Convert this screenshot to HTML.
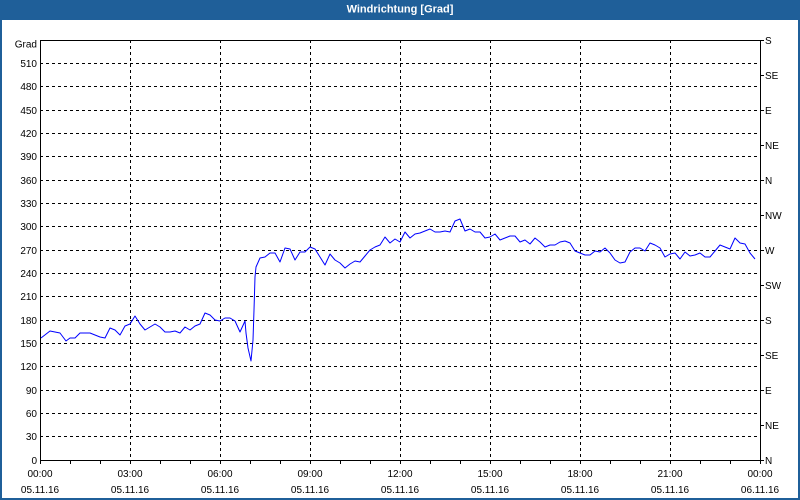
<!DOCTYPE html>
<html>
<head>
<meta charset="utf-8">
<style>
  html,body{margin:0;padding:0;background:#fff;}
  svg{display:block;}
  text{font-family:"Liberation Sans","DejaVu Sans",sans-serif;font-size:10px;fill:#000;}
</style>
</head>
<body>
<svg width="800" height="500" viewBox="0 0 800 500" xmlns="http://www.w3.org/2000/svg">
  <rect x="0" y="0" width="800" height="500" fill="#ffffff"/>
  <!-- outer border -->
  <rect x="1" y="1" width="798" height="498" fill="none" stroke="#1f5f99" stroke-width="2"/>
  <!-- title bar -->
  <rect x="0" y="0" width="800" height="20" fill="#1f5f99"/>
  <text x="400" y="12.5" text-anchor="middle" style="font-size:11px;font-weight:bold;fill:#ffffff;">Windrichtung [Grad]</text>

  <!-- grid -->
  <g stroke="#000" stroke-width="1" stroke-dasharray="3,3" shape-rendering="crispEdges" fill="none">
    <path d="M40 436.5H760 M40 413.5H760 M40 390.5H760 M40 366.5H760 M40 343.5H760 M40 320.5H760 M40 296.5H760 M40 273.5H760 M40 250.5H760 M40 226.5H760 M40 203.5H760 M40 180.5H760 M40 156.5H760 M40 133.5H760 M40 110.5H760 M40 86.5H760 M40 63.5H760"/>
    <path d="M130.5 40V460 M220.5 40V460 M310.5 40V460 M400.5 40V460 M490.5 40V460 M580.5 40V460 M670.5 40V460"/>
  </g>

  <!-- frame -->
  <g stroke="#000" stroke-width="1" shape-rendering="crispEdges" fill="none">
    <rect x="40.5" y="40.5" width="720" height="420"/>
    <!-- bottom ticks -->
    <path d="M40.5 460v4 M70.5 460v4 M100.5 460v4 M130.5 460v4 M160.5 460v4 M190.5 460v4 M220.5 460v4 M250.5 460v4 M280.5 460v4 M310.5 460v4 M340.5 460v4 M370.5 460v4 M400.5 460v4 M430.5 460v4 M460.5 460v4 M490.5 460v4 M520.5 460v4 M550.5 460v4 M580.5 460v4 M610.5 460v4 M640.5 460v4 M670.5 460v4 M700.5 460v4 M730.5 460v4 M760.5 460v4"/>
    <!-- right ticks -->
    <path d="M760 40.5h4 M760 75.5h4 M760 110.5h4 M760 145.5h4 M760 180.5h4 M760 215.5h4 M760 250.5h4 M760 285.5h4 M760 320.5h4 M760 355.5h4 M760 390.5h4 M760 425.5h4 M760 460.5h4"/>
  </g>

  <!-- data -->
  <polyline fill="none" stroke="#0000ff" stroke-width="1" stroke-linejoin="round"
    points="41,338 50,331 60,333 66,341 70,338 75,338 80,333 90,333 100,337 105,338 110,328 115,330 120,335 125,326 130,324 135,316 140,324 145,330 150,327 155,324 160,327 165,332 170,332 175,331 180,333 185,327 190,330 195,326 200,324 205,313 210,315 215,320 220,321 225,318 230,318 235,321 240,332 245,321 246,333 248,348 251,361 253,340 254,310 255,277 256,267 260,258 265,257 270,253 275,253 280,262 285,248 290,249 295,260 300,252 305,252 310,247 315,249 320,257 325,265 330,254 335,260 340,263 345,268 350,264 355,261 360,262 365,256 370,250 375,247 380,245 385,237 390,243 395,239 400,242 405,232 410,238 415,234 420,233 425,231 430,229 435,232 440,232 445,231 450,232 455,221 460,219 465,231 470,229 475,232 480,232 485,238 490,237 495,234 500,240 505,238 510,236 515,236 520,242 525,240 530,244 535,238 540,242 545,247 550,245 555,245 560,242 565,241 570,243 575,251 580,253 585,255 590,255 595,251 600,252 605,248 610,253 615,260 620,263 625,262 630,252 635,248 640,248 645,251 650,243 655,245 660,248 665,257 670,254 675,253 680,259 685,252 690,256 695,255 700,253 705,257 710,257 715,251 720,245 725,247 730,249 735,238 740,243 745,244 750,253 755,259"/>

  <!-- left labels -->
  <g text-anchor="end">
    <text x="37" y="47.5">Grad</text>
    <text x="37" y="67">510</text>
    <text x="37" y="90">480</text>
    <text x="37" y="114">450</text>
    <text x="37" y="137">420</text>
    <text x="37" y="160">390</text>
    <text x="37" y="184">360</text>
    <text x="37" y="207">330</text>
    <text x="37" y="230">300</text>
    <text x="37" y="254">270</text>
    <text x="37" y="277">240</text>
    <text x="37" y="300">210</text>
    <text x="37" y="324">180</text>
    <text x="37" y="347">150</text>
    <text x="37" y="370">120</text>
    <text x="37" y="394">90</text>
    <text x="37" y="417">60</text>
    <text x="37" y="440">30</text>
    <text x="37" y="464">0</text>
  </g>

  <!-- right labels -->
  <g text-anchor="start">
    <text x="765" y="44">S</text>
    <text x="765" y="79">SE</text>
    <text x="765" y="114">E</text>
    <text x="765" y="149">NE</text>
    <text x="765" y="184">N</text>
    <text x="765" y="219">NW</text>
    <text x="765" y="254">W</text>
    <text x="765" y="289">SW</text>
    <text x="765" y="324">S</text>
    <text x="765" y="359">SE</text>
    <text x="765" y="394">E</text>
    <text x="765" y="429">NE</text>
    <text x="765" y="464">N</text>
  </g>

  <!-- bottom labels -->
  <g text-anchor="middle">
    <text x="40" y="477">00:00</text>
    <text x="130" y="477">03:00</text>
    <text x="220" y="477">06:00</text>
    <text x="310" y="477">09:00</text>
    <text x="400" y="477">12:00</text>
    <text x="490" y="477">15:00</text>
    <text x="580" y="477">18:00</text>
    <text x="670" y="477">21:00</text>
    <text x="760" y="477">00:00</text>
    <text x="40" y="493">05.11.16</text>
    <text x="130" y="493">05.11.16</text>
    <text x="220" y="493">05.11.16</text>
    <text x="310" y="493">05.11.16</text>
    <text x="400" y="493">05.11.16</text>
    <text x="490" y="493">05.11.16</text>
    <text x="580" y="493">05.11.16</text>
    <text x="670" y="493">05.11.16</text>
    <text x="760" y="493">06.11.16</text>
  </g>
</svg>
</body>
</html>
